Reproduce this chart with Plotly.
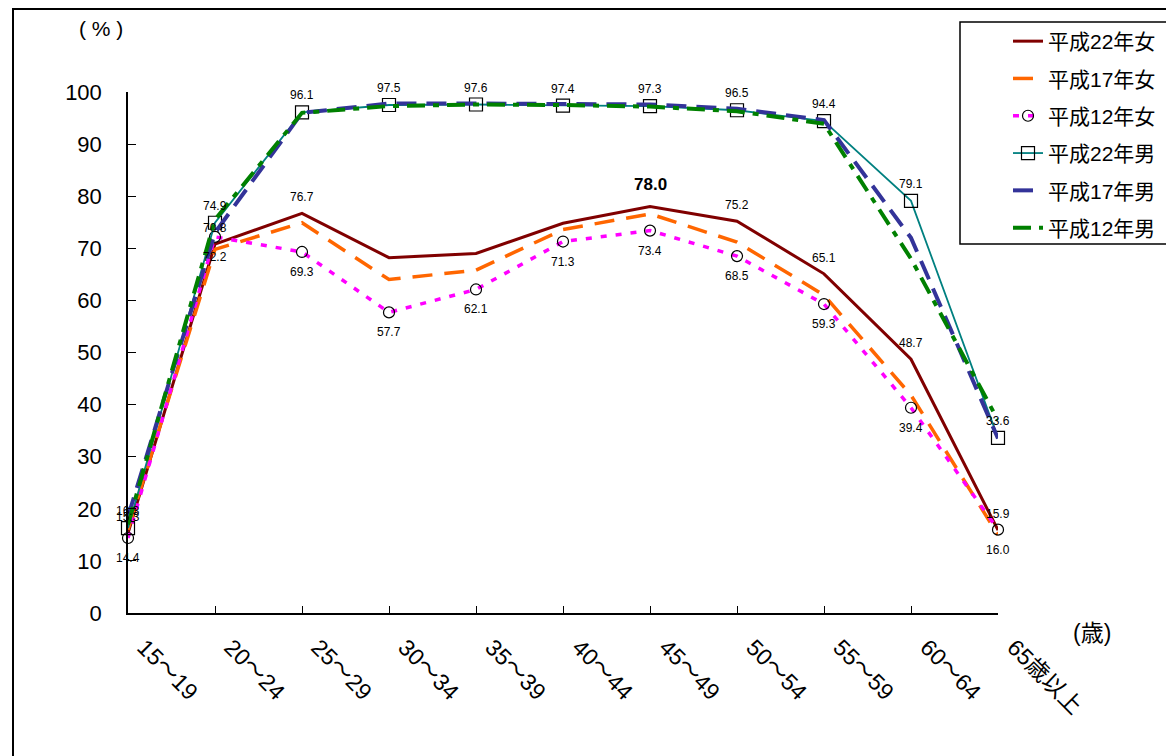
import plotly.graph_objects as go

# ---- data ----
ages = ["15～19", "20～24", "25～29", "30～34", "35～39", "40～44",
        "45～49", "50～54", "55～59", "60～64", "65歳以上"]

f_h22 = [15.3, 70.8, 76.7, 68.2, 69.0, 74.8, 78.0, 75.2, 65.1, 48.7, 15.9]
f_h17 = [16.0, 69.8, 74.9, 64.0, 65.8, 73.6, 76.6, 71.2, 61.0, 41.8, 15.0]
f_h12 = [14.4, 72.2, 69.3, 57.7, 62.1, 71.3, 73.4, 68.5, 59.3, 39.4, 16.0]
m_h22 = [16.3, 74.9, 96.1, 97.5, 97.6, 97.4, 97.3, 96.5, 94.4, 79.1, 33.6]
m_h17 = [18.5, 73.0, 96.0, 97.8, 97.8, 97.7, 97.6, 96.8, 94.6, 72.0, 33.5]
m_h12 = [17.0, 75.5, 96.0, 97.3, 97.6, 97.5, 97.2, 96.3, 93.9, 68.0, 37.0]

# which points carry a value label
f_h22_labeled = [True, True, True, False, False, False, True, True, True, True, True]
f_h22_peak = 6

FONT = "Liberation Sans, Arial, Noto Sans CJK JP, sans-serif"

x = list(range(len(ages)))
fig = go.Figure()

fig.add_trace(go.Scatter(x=x, y=f_h22, name="平成22年女", mode="lines", legendgroup="a",
                         line=dict(color="#800000", width=3), cliponaxis=False))
fig.add_trace(go.Scatter(x=x, y=f_h17, name="平成17年女", mode="lines", legendgroup="b",
                         line=dict(color="#FF6600", width=3.5, dash="20px,12px"), cliponaxis=False))
fig.add_trace(go.Scatter(x=x, y=f_h12, name="平成12年女", mode="lines+markers", legendgroup="c",
                         line=dict(color="#FF00FF", width=3.5, dash="6px,9px"),
                         marker=dict(symbol="circle-open", color="black", size=11, line=dict(width=1.2)),
                         cliponaxis=False))
fig.add_trace(go.Scatter(x=x, y=m_h22, name="平成22年男", mode="lines+markers", legendgroup="d",
                         line=dict(color="#008080", width=1.8),
                         marker=dict(symbol="square-open", color="black", size=13, line=dict(width=1.2)),
                         cliponaxis=False))
fig.add_trace(go.Scatter(x=x, y=m_h17, name="平成17年男", mode="lines", legendgroup="e",
                         line=dict(color="#333399", width=4, dash="20px,10px"), cliponaxis=False))
fig.add_trace(go.Scatter(x=x, y=m_h12, name="平成12年男", mode="lines", legendgroup="f",
                         line=dict(color="#008000", width=4, dash="18px,8px,6px,8px"), cliponaxis=False))

annotations = []
lab_font = dict(family=FONT, size=12, color="black")
for i, v in enumerate(m_h22):
    annotations.append(dict(x=i, y=v, text=f"{v:.1f}", showarrow=False, yshift=17, font=lab_font))
for i, v in enumerate(f_h12):
    annotations.append(dict(x=i, y=v, text=f"{v:.1f}", showarrow=False, yshift=-20, font=lab_font))
for i, v in enumerate(f_h22):
    if not f_h22_labeled[i]:
        continue
    if i == f_h22_peak:
        annotations.append(dict(x=i, y=v, text=f"<b>{v:.1f}</b>", showarrow=False, yshift=22,
                                font=dict(family=FONT, size=17, color="black")))
    else:
        annotations.append(dict(x=i, y=v, text=f"{v:.1f}", showarrow=False, yshift=16, font=lab_font))

# plot area in screen px (page body has an 8px offset)
L, T, W, H = 128, 92, 870, 521
OFF = 8


def px(xp):
    return (xp - L) / W


def py(yp):
    return (T + H - yp) / H


annotations.append(dict(xref="paper", yref="paper", x=px(101), y=py(29), text="( % )",
                        xanchor="center", yanchor="middle",
                        showarrow=False, font=dict(family=FONT, size=21, color="black")))
annotations.append(dict(xref="paper", yref="paper", x=px(1092), y=py(633), text="(歳)",
                        xanchor="center", yanchor="middle",
                        showarrow=False, font=dict(family=FONT, size=23, color="black")))

shapes = [
    # outer frame
    dict(type="rect", xref="paper", yref="paper", x0=px(13), y0=py(800), x1=px(1200), y1=py(9),
         line=dict(color="black", width=2), fillcolor="rgba(0,0,0,0)", layer="below"),
    # legend frame
    dict(type="rect", xref="paper", yref="paper", x0=px(960), y0=py(244), x1=px(1170), y1=py(22),
         line=dict(color="black", width=1.5), fillcolor="white", layer="below"),
]

fig.update_layout(
    width=1174, height=756,
    margin=dict(l=L - OFF, r=1174 - (L - OFF) - W, t=T - OFF, b=756 - (T - OFF) - H),
    paper_bgcolor="white", plot_bgcolor="rgba(0,0,0,0)",
    font=dict(family=FONT, color="black"),
    showlegend=True,
    legend=dict(x=px(1008), y=py(21), xanchor="left", yanchor="top",
                bgcolor="rgba(0,0,0,0)", borderwidth=0,
                font=dict(family=FONT, size=21, color="black"),
                tracegroupgap=7),
    annotations=annotations,
    shapes=shapes,
    xaxis=dict(range=[0, len(ages) - 1], tickvals=x, ticktext=ages, tickangle=45,
               ticks="inside", ticklen=7, tickcolor="black", showline=True,
               linecolor="black", linewidth=1.5, showgrid=False, zeroline=False,
               tickfont=dict(family=FONT, size=23, color="black"),
               ticklabelstandoff=10, ticklabelshift=16),
    yaxis=dict(range=[0, 100], tickvals=list(range(0, 101, 10)), ticks="inside", ticklen=8,
               tickcolor="black", showline=True, linecolor="black", linewidth=1.5,
               showgrid=False, zeroline=False,
               tickfont=dict(family=FONT, size=22, color="black"), ticklabelstandoff=20),
)

fig.write_html("out.html")
